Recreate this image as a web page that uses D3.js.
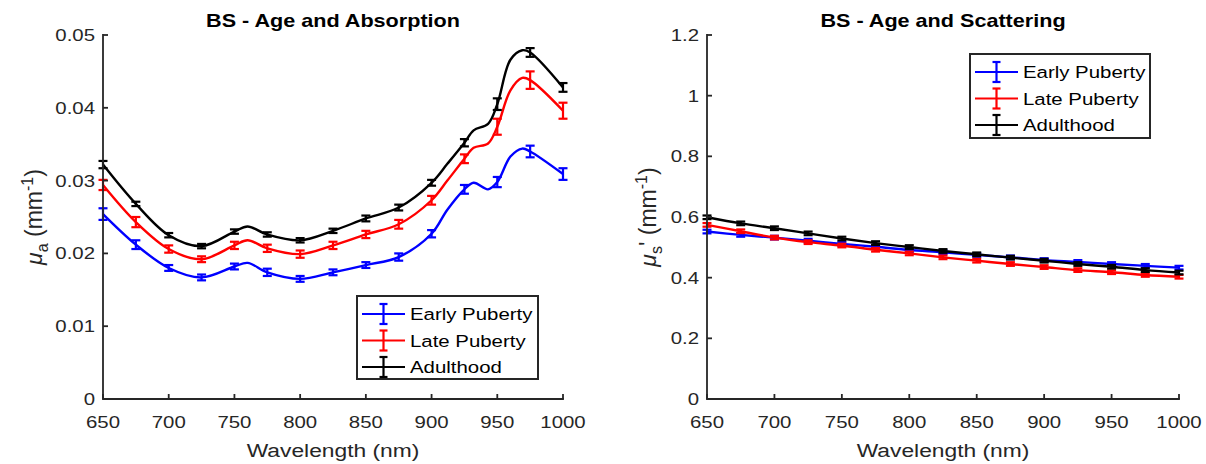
<!DOCTYPE html>
<html>
<head>
<meta charset="utf-8">
<script src="https://cdn.jsdelivr.net/npm/d3@7"></script>
<style>
	body { margin: 0; background: #fff; }
	svg { display: block; }
</style>
</head>
<body>
<div id="chart"></div>
<script>
"use strict"

// error bar wavelengths (nm)
const wavelengths = [650, 675, 700, 725, 750, 775, 800, 825, 850, 875, 900, 925, 950, 975, 1000];

const absLineWl = [650, 675, 700, 725, 750, 760, 775, 800, 825, 850, 875, 900, 912, 925, 932, 943, 950, 960, 969, 975, 1000];
const absEarly = [0.0254, 0.0212, 0.0180, 0.0167, 0.0182, 0.0187, 0.0174, 0.0165, 0.0174, 0.0184, 0.0195, 0.0227, 0.0260, 0.0288, 0.0297, 0.0288, 0.0298, 0.0333, 0.0344, 0.0340, 0.0309];
const absLate  = [0.0294, 0.0243, 0.0206, 0.0192, 0.0211, 0.0218, 0.0207, 0.0199, 0.0211, 0.0226, 0.0240, 0.0273, 0.0300, 0.0330, 0.0345, 0.0351, 0.0374, 0.0424, 0.0441, 0.0438, 0.0396];
const absAdult = [0.0322, 0.0268, 0.0225, 0.0210, 0.0230, 0.0237, 0.0226, 0.0218, 0.0231, 0.0248, 0.0263, 0.0297, 0.0323, 0.0352, 0.0369, 0.0378, 0.0405, 0.0466, 0.0479, 0.0476, 0.0428];

// absorption error (half length) at the error bar wavelengths
const absEarlyErr = [0.0008, 0.0006, 0.0004, 0.0004, 0.0004, 0.0005, 0.0004, 0.0004, 0.0004, 0.0005, 0.0005, 0.0006, 0.0007, 0.0008, 0.0008];
const absLateErr  = [0.0007, 0.0007, 0.0005, 0.0004, 0.0005, 0.0005, 0.0005, 0.0005, 0.0005, 0.0006, 0.0006, 0.0006, 0.0011, 0.0012, 0.0011];
const absAdultErr = [0.0005, 0.0003, 0.0003, 0.0003, 0.0003, 0.0003, 0.0003, 0.0003, 0.0004, 0.0004, 0.0004, 0.0005, 0.0008, 0.0006, 0.0006];

// reduced scattering
const scaEarly = [0.552, 0.541, 0.532, 0.522, 0.511, 0.502, 0.491, 0.484, 0.475, 0.467, 0.458, 0.452, 0.445, 0.439, 0.433];
const scaLate  = [0.574, 0.553, 0.532, 0.517, 0.506, 0.492, 0.480, 0.467, 0.456, 0.445, 0.435, 0.425, 0.418, 0.409, 0.403];
const scaAdult = [0.599, 0.579, 0.563, 0.546, 0.529, 0.514, 0.501, 0.488, 0.477, 0.466, 0.456, 0.445, 0.436, 0.425, 0.417];
const scaErr   = [0.006, 0.006, 0.006, 0.006, 0.006, 0.006, 0.006, 0.006, 0.006, 0.006, 0.006, 0.006, 0.006, 0.006, 0.006];

const groupNames  = ["Early Puberty", "Late Puberty", "Adulthood"];
const groupColors = ["#0000ff", "#ff0000", "#000000"];

const xTicks = [650, 700, 750, 800, 850, 900, 950, 1000];
const absTicks = [0, 0.01, 0.02, 0.03, 0.04, 0.05];
const absTickLabels = ["0", "0.01", "0.02", "0.03", "0.04", "0.05"];
const scaTicks = [0, 0.2, 0.4, 0.6, 0.8, 1, 1.2];
const scaTickLabels = ["0", "0.2", "0.4", "0.6", "0.8", "1", "1.2"];

const FONT = "'Liberation Sans', Arial, Helvetica, sans-serif";
const AXIS_COLOR = "#262626";
const SX = 1.2; // the picture is stretched sideways

const svg = d3.select("#chart").append("svg")
	.attr("width", 1206)
	.attr("height", 464)
	.style("background", "#fff");

function txt(g, x, y, str, size, anchor, weight) {
	return g.append("text")
		.attr("transform", `translate(${x},${y}) scale(${SX},1)`)
		.attr("text-anchor", anchor || "middle")
		.style("font-family", FONT)
		.style("font-size", size + "px")
		.style("font-weight", weight || "normal")
		.style("fill", AXIS_COLOR)
		.text(str);
}

function panel(cfg) {
	let self = {
		g: svg.append("g"),
		xScale: d3.scaleLinear().domain([650, 1000]).range([cfg.left, cfg.right]),
		yScale: d3.scaleLinear().domain(cfg.yDomain).range([cfg.bottom, cfg.top]),
	};
	let g = self.g, x = self.xScale, y = self.yScale;

	// lines
	let line = d3.line()
		.x(d => x(d[0]))
		.y(d => y(d[1]))
		.curve(d3.curveCatmullRom.alpha(0.5));

	cfg.series.forEach((s, i) => {
		let pts = s.lineWl.map((w, k) => [w, s.values[k]]);
		g.append("path")
			.datum(pts)
			.attr("d", line)
			.attr("fill", "none")
			.attr("stroke", groupColors[i])
			.attr("stroke-width", 2.4);

		let bars = wavelengths.map((w, k) => ({w: w, v: s.values[s.lineWl.indexOf(w)], e: s.err[k]}));
		let eb = g.append("g").attr("stroke", groupColors[i]).attr("stroke-width", 2.2);
		eb.selectAll("line.bar").data(bars).enter().append("line")
			.attr("x1", d => x(d.w)).attr("x2", d => x(d.w))
			.attr("y1", d => y(d.v - d.e)).attr("y2", d => y(d.v + d.e));
		[-1, 1].forEach(sg => {
			eb.selectAll("line.cap" + sg).data(bars).enter().append("line")
				.attr("x1", d => x(d.w) - 4.5).attr("x2", d => x(d.w) + 4.5)
				.attr("y1", d => y(d.v + sg * d.e)).attr("y2", d => y(d.v + sg * d.e));
		});
	});

	// axes (MATLAB style, ticks inside, box off)
	let ax = g.append("g").attr("stroke", AXIS_COLOR).attr("stroke-width", 1.8).attr("fill", "none");
	ax.append("path")
		.attr("d", `M${cfg.left},${cfg.top}V${cfg.bottom}H${cfg.right}`)
		.attr("stroke-linecap", "square");
	xTicks.forEach(t => {
		ax.append("line").attr("x1", x(t)).attr("x2", x(t)).attr("y1", cfg.bottom).attr("y2", cfg.bottom - 5);
		txt(g, x(t), 428, String(t), 17);
	});
	cfg.yTicks.forEach((t, k) => {
		ax.append("line").attr("x1", cfg.left).attr("x2", cfg.left + 5).attr("y1", y(t)).attr("y2", y(t));
		txt(g, cfg.left - 8, y(t) + 6, cfg.yTickLabels[k], 17, "end");
	});

	txt(g, (cfg.left + cfg.right) / 2, 457, "Wavelength (nm)", 19);
	txt(g, (cfg.left + cfg.right) / 2, 27, cfg.title, 18, "middle", "bold").style("fill", "#000");

	// y label with sub/superscripts
	let yl = g.append("text")
		.attr("transform", `translate(${cfg.yLabelX},${(cfg.top + cfg.bottom) / 2}) rotate(-90)`)
		.attr("text-anchor", "middle")
		.attr("dy", "0.35em")
		.style("font-family", FONT)
		.style("font-size", "23px")
		.style("fill", AXIS_COLOR);
	yl.append("tspan").text("\u03bc").style("font-style", "italic");
	yl.append("tspan").attr("dy", 6).style("font-size", "16px").text(cfg.yLabelSub);
	yl.append("tspan").attr("dy", -6).text(cfg.yLabelMid + " (mm");
	yl.append("tspan").attr("dy", -9).style("font-size", "16px").text("-1");
	yl.append("tspan").attr("dy", 9).text(")");

	// legend
	let L = cfg.legend;
	let lg = g.append("g");
	lg.append("rect")
		.attr("x", L.x).attr("y", L.y).attr("width", L.w).attr("height", L.h)
		.attr("fill", "#fff").attr("stroke", AXIS_COLOR).attr("stroke-width", 2);
	groupNames.forEach((name, i) => {
		let cy = L.y + 18 + i * 26.5;
		let row = lg.append("g").attr("stroke", groupColors[i]).attr("stroke-width", 2.2);
		row.append("line").attr("x1", L.x + 5).attr("x2", L.x + 48).attr("y1", cy).attr("y2", cy);
		row.append("line").attr("x1", L.x + 26.5).attr("x2", L.x + 26.5).attr("y1", cy - 10).attr("y2", cy + 10);
		row.append("line").attr("x1", L.x + 22.5).attr("x2", L.x + 30.5).attr("y1", cy - 10).attr("y2", cy - 10);
		row.append("line").attr("x1", L.x + 22.5).attr("x2", L.x + 30.5).attr("y1", cy + 10).attr("y2", cy + 10);
		txt(lg, L.x + 53, cy + 6, name, 17, "start").style("fill", "#000");
	});

	return self;
}

panel({
	left: 103, right: 563, top: 35, bottom: 399,
	yDomain: [0, 0.05],
	yTicks: absTicks, yTickLabels: absTickLabels,
	title: "BS - Age and Absorption",
	yLabelX: 34, yLabelSub: "a", yLabelMid: "",
	legend: {x: 357, y: 296, w: 181, h: 83},
	series: [
		{lineWl: absLineWl, values: absEarly, err: absEarlyErr},
		{lineWl: absLineWl, values: absLate, err: absLateErr},
		{lineWl: absLineWl, values: absAdult, err: absAdultErr},
	],
});

panel({
	left: 707, right: 1179, top: 35, bottom: 399,
	yDomain: [0, 1.2],
	yTicks: scaTicks, yTickLabels: scaTickLabels,
	title: "BS - Age and Scattering",
	yLabelX: 648, yLabelSub: "s", yLabelMid: "'",
	legend: {x: 970, y: 54, w: 180, h: 84},
	series: [
		{lineWl: wavelengths, values: scaEarly, err: scaErr},
		{lineWl: wavelengths, values: scaLate, err: scaErr},
		{lineWl: wavelengths, values: scaAdult, err: scaErr},
	],
});
</script>
</body>
</html>
